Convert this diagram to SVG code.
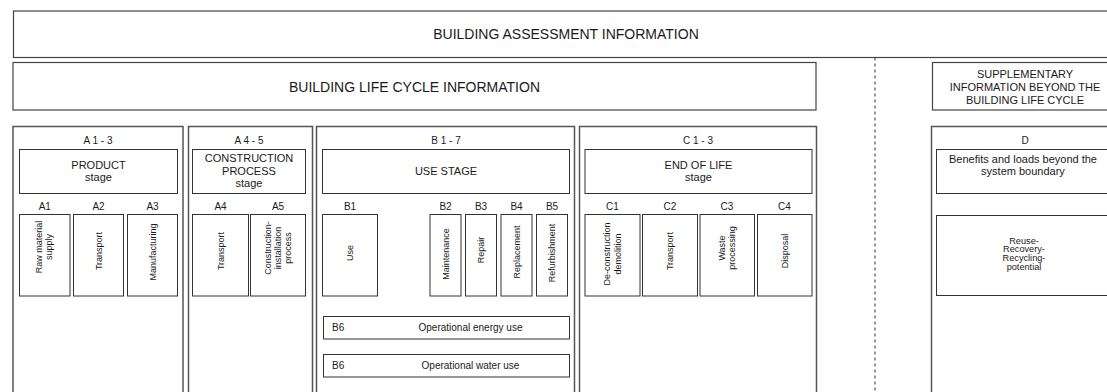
<svg xmlns="http://www.w3.org/2000/svg" width="1107" height="392" viewBox="0 0 1107 392">
<style>
text{font-family:"Liberation Sans",Arial,sans-serif;fill:#1a1a1a;}
.big{font-size:14px;text-anchor:middle;}
.hd{font-size:10px;text-anchor:middle;}
.st{font-size:11px;text-anchor:middle;}
.lb{font-size:10px;text-anchor:middle;}
.rt{font-size:9px;text-anchor:middle;}
.sm{font-size:9.2px;text-anchor:middle;}
.frame{fill:#fff;stroke:#444;stroke-width:1.2;}
.col{fill:#fff;stroke:#555;stroke-width:1.5;}
.box{fill:#fff;stroke:#333;stroke-width:1;}
</style>
<rect width="1107" height="392" fill="#fff"/>
<g id="assessment">
<rect class="frame" x="13.5" y="11" width="1110" height="46.5"/>
<text class="big" x="566" y="39">BUILDING ASSESSMENT INFORMATION</text>
</g>
<g id="lifecycle">
<rect class="frame" x="13" y="62.5" width="803" height="47.5"/>
<text class="big" x="414.5" y="92">BUILDING LIFE CYCLE INFORMATION</text>
</g>
<g id="supplementary">
<rect class="frame" x="932.5" y="62.5" width="200" height="47.5"/>
<text class="st" x="1025"><tspan x="1025" y="77.5">SUPPLEMENTARY</tspan><tspan x="1025" y="90.5">INFORMATION BEYOND THE</tspan><tspan x="1025" y="103.5">BUILDING LIFE CYCLE</tspan></text>
</g>
<g id="connectors">
<line x1="875" y1="57.5" x2="875" y2="392" stroke="#333" stroke-width="1" stroke-dasharray="3,3"/>
</g>
<g id="colA13">
<rect class="col" x="13" y="126.5" width="170" height="300"/>
<text class="hd" x="98" y="144">A 1 - 3</text>
<rect class="box" x="19.5" y="149.5" width="158" height="44"/>
<text class="st"><tspan x="98.5" y="169">PRODUCT</tspan><tspan x="98.5" y="181">stage</tspan></text>
</g>
<g id="A1"><text class="lb" x="44.75" y="210">A1</text><rect class="box" x="19.5" y="214.5" width="50.5" height="81.5"/>
<text class="rt" transform="translate(41.5,247) rotate(-90)"><tspan x="0" y="0">Raw material</tspan><tspan x="0" y="10.5">supply</tspan></text></g>
<g id="A2"><text class="lb" x="98.5" y="210">A2</text><rect class="box" x="73.5" y="214.5" width="50" height="81.5"/>
<text class="rt" transform="translate(101.5,251) rotate(-90)">Transport</text></g>
<g id="A3"><text class="lb" x="152.5" y="210">A3</text><rect class="box" x="127.5" y="214.5" width="50" height="81.5"/>
<text class="rt" transform="translate(155.5,252) rotate(-90)">Manufacturing</text></g>
<g id="colA45">
<rect class="col" x="188.5" y="126.5" width="124" height="300"/>
<text class="hd" x="249" y="144">A 4 - 5</text>
<rect class="box" x="192.5" y="149.5" width="113" height="44"/>
<text class="st"><tspan x="249" y="162">CONSTRUCTION</tspan><tspan x="249" y="174.5">PROCESS</tspan><tspan x="249" y="187">stage</tspan></text>
</g>
<g id="A4"><text class="lb" x="220.5" y="210">A4</text><rect class="box" x="192.5" y="214.5" width="56" height="81.5"/>
<text class="rt" transform="translate(223.5,251) rotate(-90)">Transport</text></g>
<g id="A5"><text class="lb" x="278" y="210">A5</text><rect class="box" x="250.5" y="214.5" width="55" height="81.5"/>
<text class="rt" transform="translate(271,248) rotate(-90)"><tspan x="0" y="0">Construction-</tspan><tspan x="0" y="10">installation</tspan><tspan x="0" y="20">process</tspan></text></g>
<g id="colB">
<rect class="col" x="316.5" y="126.5" width="258" height="300"/>
<text class="hd" x="446" y="144">B 1 - 7</text>
<rect class="box" x="322.5" y="149.5" width="247" height="44"/>
<text class="st" x="446" y="175">USE STAGE</text>
</g>
<g id="B1"><text class="lb" x="350" y="210">B1</text><rect class="box" x="322.5" y="214.5" width="55" height="81.5"/>
<text class="rt" transform="translate(353,253) rotate(-90)">Use</text></g>
<g id="B2"><text class="lb" x="445.5" y="210">B2</text><rect class="box" x="430" y="214.5" width="31" height="81.5"/>
<text class="rt" transform="translate(448.5,254) rotate(-90)">Maintenance</text></g>
<g id="B3"><text class="lb" x="481" y="210">B3</text><rect class="box" x="465.5" y="214.5" width="31" height="81.5"/>
<text class="rt" transform="translate(484,250) rotate(-90)">Repair</text></g>
<g id="B4"><text class="lb" x="516.5" y="210">B4</text><rect class="box" x="501" y="214.5" width="31" height="81.5"/>
<text class="rt" transform="translate(519.5,252) rotate(-90)">Replacement</text></g>
<g id="B5"><text class="lb" x="552" y="210">B5</text><rect class="box" x="536.5" y="214.5" width="31" height="81.5"/>
<text class="rt" transform="translate(555,253) rotate(-90)">Refurbishment</text></g>
<g id="B6energy"><rect class="box" x="323.5" y="316.5" width="246" height="22.5"/>
<text class="lb" x="332" y="331" style="text-anchor:start">B6</text><text class="lb" x="470.5" y="331">Operational energy use</text></g>
<g id="B6water"><rect class="box" x="323.5" y="354.5" width="246" height="22.5"/>
<text class="lb" x="332" y="369" style="text-anchor:start">B6</text><text class="lb" x="470.5" y="369">Operational water use</text></g>
<g id="colC">
<rect class="col" x="579.5" y="126.5" width="237" height="300"/>
<text class="hd" x="698" y="144">C 1 - 3</text>
<rect class="box" x="585" y="149.5" width="227" height="44"/>
<text class="st"><tspan x="698.5" y="169">END OF LIFE</tspan><tspan x="698.5" y="181">stage</tspan></text>
</g>
<g id="C1"><text class="lb" x="612.5" y="210">C1</text><rect class="box" x="585" y="214.5" width="55" height="81.5"/>
<text class="rt" transform="translate(610,254) rotate(-90)"><tspan x="0" y="0">De-construction</tspan><tspan x="0" y="10.5">demolition</tspan></text></g>
<g id="C2"><text class="lb" x="670" y="210">C2</text><rect class="box" x="642.5" y="214.5" width="55" height="81.5"/>
<text class="rt" transform="translate(673,251) rotate(-90)">Transport</text></g>
<g id="C3"><text class="lb" x="727" y="210">C3</text><rect class="box" x="700" y="214.5" width="54.5" height="81.5"/>
<text class="rt" transform="translate(724.5,248) rotate(-90)"><tspan x="0" y="0">Waste</tspan><tspan x="0" y="10.5">processing</tspan></text></g>
<g id="C4"><text class="lb" x="784.5" y="210">C4</text><rect class="box" x="757.5" y="214.5" width="54.5" height="81.5"/>
<text class="rt" transform="translate(787.5,251) rotate(-90)">Disposal</text></g>
<g id="colD">
<rect class="col" x="931.5" y="126.5" width="200" height="300"/>
<text class="hd" x="1025" y="144">D</text>
</g>
<g id="benefits"><rect class="box" x="936.5" y="149.5" width="200" height="44"/>
<text class="st"><tspan x="1023" y="163">Benefits and loads beyond the</tspan><tspan x="1023" y="175">system boundary</tspan></text></g>
<g id="reuse"><rect class="box" x="936.5" y="215.5" width="200" height="80"/>
<text class="sm"><tspan x="1024" y="243.5">Reuse-</tspan><tspan x="1024" y="252.3">Recovery-</tspan><tspan x="1024" y="261.1">Recycling-</tspan><tspan x="1024" y="269.9">potential</tspan></text></g>
</svg>
